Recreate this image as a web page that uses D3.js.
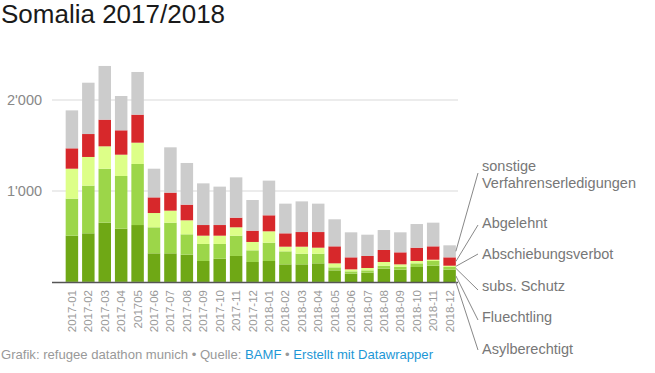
<!DOCTYPE html>
<html>
<head>
<meta charset="utf-8">
<script src="https://cdn.jsdelivr.net/npm/d3@7"></script>
<style>
  body { margin: 0; background: #fff; font-family: "Liberation Sans", Arial, sans-serif; }
  svg text { font-family: "Liberation Sans", Arial, sans-serif; }
</style>
</head>
<body>
<svg id="chart"></svg>
<script>
// months shown on the x axis (label "201705" is as in the original)
const months = ["2017-01", "2017-02", "2017-03", "2017-04", "201705", "2017-06", "2017-07", "2017-08",
  "2017-09", "2017-10", "2017-11", "2017-12", "2018-01", "2018-02", "2018-03", "2018-04",
  "2018-05", "2018-06", "2018-07", "2018-08", "2018-09", "2018-10", "2018-11", "2018-12"];

// series, bottom to top
const asylberechtigt = [2, 2, 2, 2, 2, 1, 1, 1, 1, 1, 1, 1, 1, 1, 1, 1, 1, 0, 0, 0, 0, 0, 0, 0];
const fluechtling = [507, 533, 650, 584, 624, 314, 314, 299, 230, 255, 285, 219, 230, 193, 193, 204, 127, 92, 103, 147, 136, 165, 179, 136];
const subsSchutz = [407, 524, 593, 579, 671, 286, 337, 224, 187, 162, 223, 128, 201, 143, 117, 106, 33, 25, 25, 32, 32, 40, 52, 29];
const abschiebungsverbot = [329, 315, 246, 234, 234, 157, 132, 154, 91, 91, 92, 92, 125, 51, 77, 66, 44, 22, 26, 41, 26, 26, 14, 14];
const abgelehnt = [224, 252, 293, 268, 308, 172, 198, 172, 117, 117, 106, 124, 176, 147, 161, 172, 187, 132, 132, 132, 132, 146, 147, 92];
const sonstige = [417, 564, 590, 377, 469, 315, 498, 458, 458, 422, 443, 337, 381, 326, 337, 312, 297, 275, 234, 219, 220, 260, 260, 132];

const yTicks = [1000, 2000];

const series = [
  { key: "asyl", name: "Asylberechtigt", values: asylberechtigt, color: "#5c9410" },
  { key: "fluecht", name: "Fluechtling", values: fluechtling, color: "#6fa815" },
  { key: "subs", name: "subs. Schutz", values: subsSchutz, color: "#9cd649" },
  { key: "abschieb", name: "Abschiebungsverbot", values: abschiebungsverbot, color: "#ddff88" },
  { key: "abgel", name: "Abgelehnt", values: abgelehnt, color: "#d7282b" },
  { key: "sonst", name: ["sonstige", "Verfahrenserledigungen"], values: sonstige, color: "#cccccc" }
];

const width = 655, height = 373;
const svg = d3.select("#chart").attr("width", width).attr("height", height);

// table for d3.stack
const rows = months.map((m, i) => {
  const r = { month: m };
  series.forEach((s) => { r[s.key] = s.values[i]; });
  return r;
});
const stacked = d3.stack().keys(series.map((s) => s.key))(rows);

const x = d3.scaleBand().domain(months).range([63.7, 457.8]).paddingInner(0.24).paddingOuter(0.12);
const y = d3.scaleLinear().domain([0, 2000]).range([282, 100]);

// title
svg.append("text")
  .attr("x", 1).attr("y", 23)
  .attr("font-size", 26)
  .attr("fill", "#1a1a1a")
  .text("Somalia 2017/2018");

// grid
svg.append("g")
  .selectAll("line")
  .data(yTicks)
  .enter()
  .append("line")
  .attr("x1", 52).attr("x2", 458)
  .attr("y1", (d) => y(d)).attr("y2", (d) => y(d))
  .attr("stroke", "#d9d9d9")
  .attr("stroke-width", 1);

svg.append("g")
  .selectAll("text")
  .data(yTicks)
  .enter()
  .append("text")
  .attr("x", 7)
  .attr("y", (d) => y(d) + 5)
  .attr("font-size", 14.5)
  .attr("fill", "#888")
  .text((d) => d3.format(",")(d).replace(",", "'"));

// bars
svg.append("g")
  .selectAll("g")
  .data(stacked)
  .enter()
  .append("g")
  .attr("fill", (d, i) => series[i].color)
  .selectAll("rect")
  .data((d) => d)
  .enter()
  .append("rect")
  .attr("x", (d) => x(d.data.month))
  .attr("width", x.bandwidth())
  .attr("y", (d) => y(d[1]))
  .attr("height", (d) => Math.max(0, y(d[0]) - y(d[1])));

// baseline
svg.append("line")
  .attr("x1", 52).attr("x2", 458)
  .attr("y1", y(0) + 0.5).attr("y2", y(0) + 0.5)
  .attr("stroke", "#555")
  .attr("stroke-width", 1.3);

// x axis labels
const xAxis = d3.axisBottom(x).tickSize(0).tickPadding(0);
const xg = svg.append("g")
  .attr("transform", "translate(0," + (y(0) + 8) + ")")
  .call(xAxis);
xg.select(".domain").remove();
xg.selectAll("text")
  .attr("font-size", 11.5)
  .attr("fill", "#999")
  .attr("text-anchor", "end")
  .attr("dy", "0.35em")
  .attr("transform", "rotate(-90)")
  .attr("x", 0).attr("y", 0);

// legend with leader lines to the last bar
const last = months.length - 1;
const labelY = [349, 317, 286, 254, 223, 174];
const lineEndY = [350, 320, 290, 254, 225, 173];
const lg = svg.append("g");
stacked.forEach((layer, i) => {
  const d = layer[last];
  const mid = (y(d[0]) + y(d[1])) / 2;
  lg.append("line")
    .attr("x1", x(months[last]) + x.bandwidth())
    .attr("y1", mid)
    .attr("x2", 478)
    .attr("y2", lineEndY[i])
    .attr("stroke", "#888")
    .attr("stroke-width", 1);
  const names = Array.isArray(series[i].name) ? series[i].name : [series[i].name];
  const t = lg.append("text")
    .attr("x", 482)
    .attr("y", labelY[i] - (names.length - 1) * 17 + (names.length > 1 ? 9 : 0))
    .attr("font-size", 14.5)
    .attr("fill", "#777");
  names.forEach((n, k) => {
    t.append("tspan").attr("x", 482).attr("dy", k === 0 ? "0.35em" : 17).text(n);
  });
});

// footer
const foot = svg.append("text")
  .attr("x", 1).attr("y", 359)
  .attr("font-size", 13.1)
  .attr("fill", "#999");
foot.append("tspan").text("Grafik: refugee datathon munich • Quelle: ");
foot.append("tspan").attr("fill", "#1d97d6").text("BAMF");
foot.append("tspan").text(" • ");
foot.append("tspan").attr("fill", "#1d97d6").text("Erstellt mit Datawrapper");
</script>
</body>
</html>
